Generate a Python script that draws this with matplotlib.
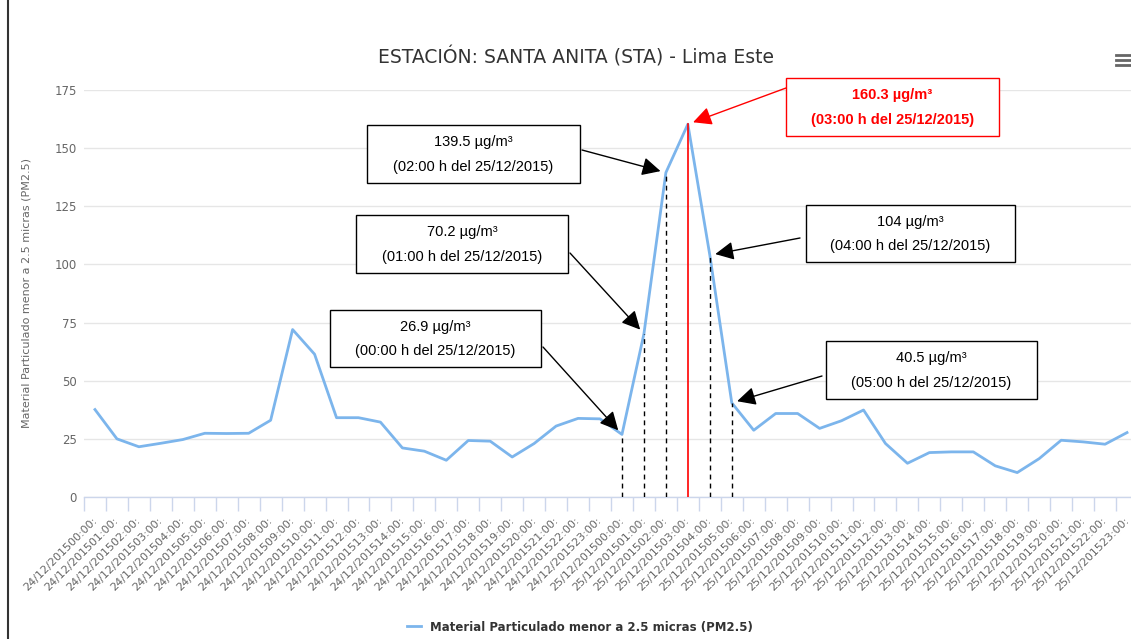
import matplotlib
matplotlib.use("Agg")
import matplotlib.pyplot as plt
from matplotlib.patches import Rectangle
from matplotlib.lines import Line2D
import numpy as np

W, H = 1131, 639

title = "ESTACIÓN: SANTA ANITA (STA) - Lima Este"
ylabel = "Material Particulado menor a 2.5 micras (PM2.5)"
series_name = "Material Particulado menor a 2.5 micras (PM2.5)"

days = ["24/12/2015"] * 24 + ["25/12/2015"] * 24
hours = [f"{h:02d}:00:" for h in range(24)] * 2
categories = [d + h for d, h in zip(days, hours)]

values = [37.6, 25.0, 21.6, 23.1, 24.7, 27.4, 27.3, 27.4, 33.0, 72.0,
          61.4, 34.1, 34.1, 32.2, 21.1, 19.7, 15.8, 24.3, 24.0, 17.2,
          23.0, 30.5, 33.8, 33.6,
          26.9, 70.2, 139.5, 160.3, 104.0, 40.5, 28.7, 35.9, 35.9, 29.5,
          32.8, 37.4, 23.0, 14.5, 19.1, 19.4, 19.4, 13.4, 10.5, 16.5,
          24.4, 23.7, 22.7, 27.7]

yticks = [0, 25, 50, 75, 100, 125, 150, 175]

ann_idx = [24, 25, 26, 27, 28, 29]
ann_val_text = ["26.9 µg/m³", "70.2 µg/m³", "139.5 µg/m³", "160.3 µg/m³", "104 µg/m³", "40.5 µg/m³"]
ann_time_text = ["(00:00 h del 25/12/2015)", "(01:00 h del 25/12/2015)", "(02:00 h del 25/12/2015)",
                 "(03:00 h del 25/12/2015)", "(04:00 h del 25/12/2015)", "(05:00 h del 25/12/2015)"]
ann_box = [(330, 310, 541, 367), (356, 215, 568, 273), (367, 125, 580, 183),
           (786, 78, 999, 136), (806, 205, 1015, 262), (826, 341, 1037, 399)]
ann_start = [(543, 347), (570, 253), (582, 150), (786, 88), (800, 238), (822, 376)]
ann_red = [False, False, False, True, False, False]

fig = plt.figure(figsize=(W / 100, H / 100), dpi=100)
fig.patch.set_facecolor("white")

n = len(values)
x_left, x_right = 84, 1138
y_top, y_bot = 90, 497
ax = fig.add_axes([x_left / W, (H - y_bot) / H, (x_right - x_left) / W, (y_bot - y_top) / H])
ax.set_xlim(-0.5, n - 0.5)
ax.set_ylim(0, 175)

xs = np.arange(n)
ax.plot(xs, values, color="#7cb5ec", lw=2, zorder=3, solid_joinstyle="round")

for s in ["top", "right", "left"]:
    ax.spines[s].set_visible(False)
ax.spines["bottom"].set_color("#ccd6eb")
ax.spines["bottom"].set_linewidth(1)

ax.set_yticks(yticks)
ax.set_yticklabels([str(t) for t in yticks])
ax.tick_params(axis="y", length=0, pad=5, labelsize=8.5, labelcolor="#666666")
ax.yaxis.grid(True, color="#e6e6e6", lw=1)
ax.set_axisbelow(True)

ax.set_xticks(xs)
ax.set_xticklabels(categories, rotation=45, ha="right", va="center",
                   rotation_mode="anchor", fontsize=8, color="#666666")
ax.set_xticks(np.arange(n + 1) - 0.5, minor=True)
ax.tick_params(axis="x", which="major", length=0, pad=16)
ax.tick_params(axis="x", which="minor", length=10, color="#ccd6eb", width=1)

ax.set_ylabel(ylabel, fontsize=8, color="#666666")
ax.yaxis.set_label_coords(-52 / (x_right - x_left), 0.5)

fig.text(576 / W, 1 - 57 / H, title, ha="center", va="center", fontsize=13.5, color="#333333")

for i, red in zip(ann_idx, ann_red):
    if red:
        ax.plot([i, i], [0, values[i]], color="red", lw=1.2, zorder=4)
    else:
        ax.plot([i, i], [0, values[i]], color="black", lw=1, ls=(0, (3.5, 3)), zorder=4)

for i, t1, t2, box, st, red in zip(ann_idx, ann_val_text, ann_time_text, ann_box, ann_start, ann_red):
    x0, y0, x1, y1 = box
    col = "red" if red else "black"
    rect = Rectangle((x0 / W, 1 - y1 / H), (x1 - x0) / W, (y1 - y0) / H,
                     transform=fig.transFigure, facecolor="white", edgecolor=col, lw=1, zorder=5)
    fig.add_artist(rect)
    cx = (x0 + x1) / 2
    fw = "bold" if red else "normal"
    fig.text(cx / W, 1 - (y0 + (y1 - y0) * 0.3) / H, t1, ha="center", va="center",
             fontsize=10.5, color=col, fontweight=fw, family="Liberation Sans", zorder=6)
    fig.text(cx / W, 1 - (y0 + (y1 - y0) * 0.72) / H, t2, ha="center", va="center",
             fontsize=10.5, color=col, fontweight=fw, family="Liberation Sans", zorder=6)
    ax.annotate("", xy=(i, values[i]), xycoords="data",
                xytext=(st[0], H - st[1]), textcoords="figure pixels",
                arrowprops=dict(arrowstyle="-|>", color=col, lw=1, mutation_scale=28,
                                shrinkA=0, shrinkB=4), zorder=6)

handle = Line2D([0], [0], color="#7cb5ec", lw=2)
leg = fig.legend([handle], [series_name], loc="center", bbox_to_anchor=(580 / W, 1 - 627 / H),
                 frameon=False, handlelength=1.2, fontsize=8.5)
for t in leg.get_texts():
    t.set_fontweight("bold")
    t.set_color("#333333")

for dy in (-5, 0, 5):
    fig.add_artist(Line2D([1116 / W, 1130 / W], [1 - (60 + dy) / H] * 2, color="#666666", lw=2,
                          transform=fig.transFigure))

fig.add_artist(Line2D([8 / W, 8 / W], [0, 1], color="#333333", lw=1.5, transform=fig.transFigure))

fig.savefig("out.png", dpi=100)
